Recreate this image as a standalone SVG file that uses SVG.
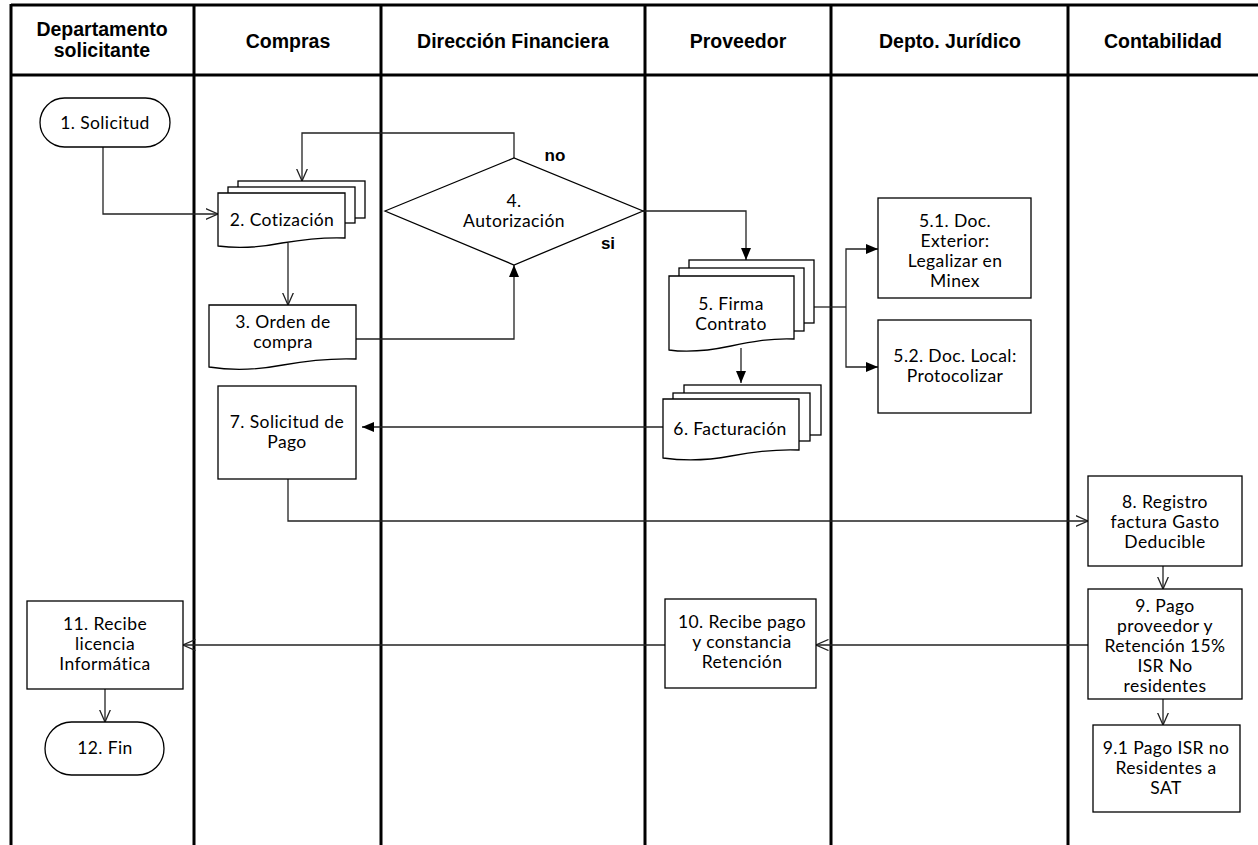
<svg xmlns="http://www.w3.org/2000/svg" width="1258" height="845" viewBox="0 0 1258 845">
  <style>
    .lane { stroke: #000; stroke-width: 3; fill: none; }
    .hdr { font-family: "Liberation Sans", Arial, sans-serif; font-weight: bold; font-size: 19.5px; text-anchor: middle; fill: #000; }
    .shape { fill: #fff; stroke: #000; stroke-width: 1.3; }
    .lbl { font-family: Lato, "Open Sans", sans-serif; font-size: 17.5px; letter-spacing: 0.4px; text-anchor: middle; fill: #000; }
    .yn { font-family: "Liberation Sans", Arial, sans-serif; font-weight: bold; font-size: 17px; text-anchor: middle; fill: #000; }
    .edge { fill: none; stroke: #222; stroke-width: 1.3; }
    .open { marker-end: url(#openArrow); }
    .solid { marker-end: url(#solidArrow); }
  </style>
  <defs>
    <marker id="openArrow" markerUnits="userSpaceOnUse" markerWidth="13" markerHeight="12" viewBox="0 0 13 12" refX="12.5" refY="6" orient="auto">
      <path d="M0,0.5 L12.5,6 L0,11.5" fill="none" stroke="#222" stroke-width="1.3"/>
    </marker>
    <marker id="solidArrow" markerUnits="userSpaceOnUse" markerWidth="12" markerHeight="11" viewBox="0 0 12 11" refX="12" refY="5.5" orient="auto">
      <path d="M0,0.5 L12,5.5 L0,10.5 Z" fill="#000"/>
    </marker>
  </defs>

  <rect width="1258" height="845" fill="#fff"/>

  <!-- swimlane grid -->
  <g id="lanes">
    <line class="lane" x1="11" y1="5" x2="1258" y2="5"/>
    <line class="lane" x1="11" y1="75" x2="1258" y2="75"/>
    <line class="lane" x1="11" y1="4" x2="11" y2="845"/>
    <line class="lane" x1="194" y1="4" x2="194" y2="845"/>
    <line class="lane" x1="381" y1="4" x2="381" y2="845"/>
    <line class="lane" x1="645" y1="4" x2="645" y2="845"/>
    <line class="lane" x1="831" y1="4" x2="831" y2="845"/>
    <line class="lane" x1="1068" y1="4" x2="1068" y2="845"/>
    <text class="hdr" x="102" y="36">Departamento</text>
    <text class="hdr" x="102" y="57">solicitante</text>
    <text class="hdr" x="288" y="48">Compras</text>
    <text class="hdr" x="513" y="48">Dirección Financiera</text>
    <text class="hdr" x="738" y="48">Proveedor</text>
    <text class="hdr" x="950" y="48">Depto. Jurídico</text>
    <text class="hdr" x="1163" y="48">Contabilidad</text>
  </g>

  <!-- connectors -->
  <g id="connectors">
    <polyline class="edge open" points="103,147 103,214 218,214"/>
    <polyline class="edge open" points="514,158 514,133 302,133 302,181"/>
    <polyline class="edge open" points="288,243 288,305"/>
    <polyline class="edge solid" points="356,339 514,339 514,265"/>
    <polyline class="edge solid" points="643,211 746,211 746,260"/>
    <polyline class="edge" points="814,307 846,307"/>
    <polyline class="edge solid" points="846,307 846,249 878,249"/>
    <polyline class="edge solid" points="846,307 846,367 878,367"/>
    <polyline class="edge solid" points="741,348 741,383"/>
    <polyline class="edge solid" points="663,427 362,427"/>
    <polyline class="edge open" points="288,479 288,521 1088,521"/>
    <polyline class="edge open" points="1163,566 1163,589"/>
    <polyline class="edge open" points="1163,699 1163,725"/>
    <polyline class="edge open" points="1088,645 816,645"/>
    <polyline class="edge open" points="665,645 183,645"/>
    <polyline class="edge open" points="105,689 105,722"/>
    <text class="yn" x="555" y="161">no</text>
    <text class="yn" x="608" y="249">si</text>
  </g>

  <g id="n1">
    <rect class="shape" x="40" y="98" width="130" height="49" rx="24.5"/>
    <text class="lbl" x="105" y="129">1. Solicitud</text>
  </g>

  <g id="n2">
    <rect class="shape" x="238" y="181" width="127" height="37"/>
    <rect class="shape" x="228" y="187" width="127" height="36"/>
    <path class="shape" d="M218,193 H345 V238 C320,237 300,240 282,243 C262,247 240,249 218,246 Z"/>
    <text class="lbl" x="282" y="226">2. Cotización</text>
  </g>

  <g id="n3">
    <path class="shape" d="M209,305 H356 V359 C330,358 305,361 283,365 C262,369 235,371 209,367 Z"/>
    <text class="lbl" x="283" y="328">3. Orden de</text>
    <text class="lbl" x="283" y="348">compra</text>
  </g>

  <g id="n4">
    <polygon class="shape" points="385,211 514,158 643,211 514,265"/>
    <text class="lbl" x="514" y="207">4.</text>
    <text class="lbl" x="514" y="227">Autorización</text>
  </g>

  <g id="n5">
    <rect class="shape" x="689" y="260" width="125" height="63"/>
    <rect class="shape" x="679" y="268" width="125" height="63"/>
    <path class="shape" d="M669,276 H794 V339 C770,338 750,342 731,346 C712,350 690,353 669,350 Z"/>
    <text class="lbl" x="731" y="310">5. Firma</text>
    <text class="lbl" x="731" y="330">Contrato</text>
  </g>

  <g id="n5_1">
    <rect class="shape" x="878" y="198" width="153" height="100"/>
    <text class="lbl" x="955" y="227">5.1. Doc.</text>
    <text class="lbl" x="955" y="247">Exterior:</text>
    <text class="lbl" x="955" y="267">Legalizar en</text>
    <text class="lbl" x="955" y="287">Minex</text>
  </g>

  <g id="n5_2">
    <rect class="shape" x="878" y="320" width="153" height="93"/>
    <text class="lbl" x="955" y="362">5.2. Doc. Local:</text>
    <text class="lbl" x="955" y="382">Protocolizar</text>
  </g>

  <g id="n6">
    <rect class="shape" x="684" y="385" width="137" height="50"/>
    <rect class="shape" x="673" y="393" width="137" height="48"/>
    <path class="shape" d="M663,399 H799 V450 C775,449 752,452 731,456 C710,460 685,461 663,458 Z"/>
    <text class="lbl" x="730" y="435">6. Facturación</text>
  </g>

  <g id="n7">
    <rect class="shape" x="218" y="386" width="138" height="93"/>
    <text class="lbl" x="287" y="428">7. Solicitud de</text>
    <text class="lbl" x="287" y="448">Pago</text>
  </g>

  <g id="n8">
    <rect class="shape" x="1088" y="476" width="154" height="90"/>
    <text class="lbl" x="1165" y="508">8. Registro</text>
    <text class="lbl" x="1165" y="528">factura Gasto</text>
    <text class="lbl" x="1165" y="548">Deducible</text>
  </g>

  <g id="n9">
    <rect class="shape" x="1088" y="589" width="154" height="110"/>
    <text class="lbl" x="1165" y="612">9. Pago</text>
    <text class="lbl" x="1165" y="632">proveedor y</text>
    <text class="lbl" x="1165" y="652">Retención 15%</text>
    <text class="lbl" x="1165" y="672">ISR No</text>
    <text class="lbl" x="1165" y="692">residentes</text>
  </g>

  <g id="n9_1">
    <rect class="shape" x="1093" y="725" width="147" height="87"/>
    <text class="lbl" x="1166" y="754">9.1 Pago ISR no</text>
    <text class="lbl" x="1166" y="774">Residentes a</text>
    <text class="lbl" x="1166" y="794">SAT</text>
  </g>

  <g id="n10">
    <rect class="shape" x="665" y="599" width="151" height="89"/>
    <text class="lbl" x="742" y="628">10. Recibe pago</text>
    <text class="lbl" x="742" y="648">y constancia</text>
    <text class="lbl" x="742" y="668">Retención</text>
  </g>

  <g id="n11">
    <rect class="shape" x="27" y="601" width="156" height="88"/>
    <text class="lbl" x="105" y="630">11. Recibe</text>
    <text class="lbl" x="105" y="650">licencia</text>
    <text class="lbl" x="105" y="670">Informática</text>
  </g>

  <g id="n12">
    <rect class="shape" x="45" y="722" width="119" height="53" rx="26.5"/>
    <text class="lbl" x="105" y="754">12. Fin</text>
  </g>
</svg>
